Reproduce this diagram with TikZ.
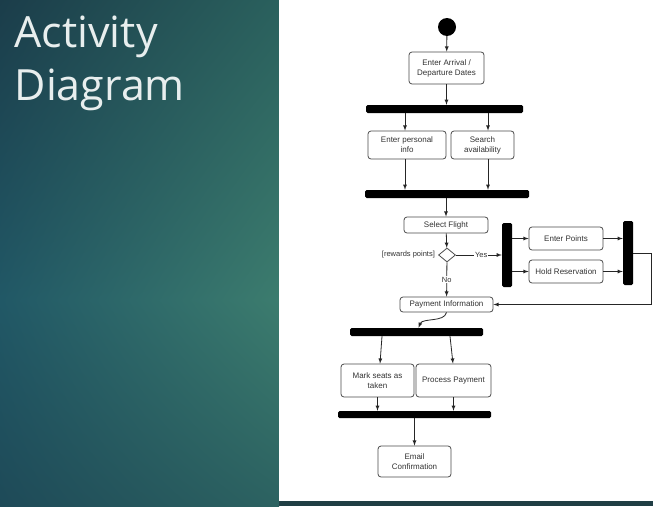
\documentclass[tikz,border=0pt]{standalone}
\usepackage{fontspec}
\setmainfont{Liberation Sans}
\newfontfamily\titlefont{Open Sans}
\usepackage{tikz}
\usetikzlibrary{calc,arrows,shapes.geometric,shadings}
\definecolor{bgTL}{RGB}{27,61,74}
\definecolor{bgTR}{RGB}{42,96,93}
\definecolor{bgML}{RGB}{33,88,102}
\definecolor{bgMR}{RGB}{60,124,110}
\definecolor{bgBL}{RGB}{30,74,88}
\definecolor{bgBR}{RGB}{44,98,97}
\definecolor{bgstrip}{RGB}{32,62,68}
\definecolor{titlecol}{RGB}{232,238,238}

\begin{document}
\begin{tikzpicture}[x=1pt,y=1pt,>=latex,
    act/.style={draw=black!70,fill=white,rounded corners=3pt,align=center,inner sep=1pt,
      font=\fontsize{8}{10}\selectfont,text=black!80,line width=0.8pt},
    bar/.style={fill=black,rounded corners=1.5pt,inner sep=0pt},
    lbl/.style={fill=white,inner sep=1pt,font=\fontsize{7.5}{9}\selectfont,text=black!80},
    flow/.style={->,draw=black!85,line width=0.8pt}]
              \useasboundingbox(0,0)rectangle(653,-506);
              \fill[bgstrip](0,0)rectangle(653,-506);
              \shade[upper left=bgTL,upper right=bgTR,lower left=bgML,lower right=bgMR](0,0)rectangle(279,-300);
              \shade[upper left=bgML,upper right=bgMR,lower left=bgBL,lower right=bgBR](0,-300)rectangle(279,-506);
              \fill[white](279,0)rectangle(653,-501);
              \node[anchor=base west,inner sep=0pt,text=titlecol,font=\titlefont\fontsize{43}{53}\selectfont](t1)at(14.5,-47){Activity};
              \node[anchor=base west,inner sep=0pt,text=titlecol,font=\titlefont\fontsize{43}{53}\selectfont](t2)at(14.5,-100){Diagram};
              \node[circle,fill,inner sep=0pt,minimum size=18pt](start)at(447,-27){};
              \node[act,minimum width=75pt,minimum height=32pt](arr)at(446.5,-68){Enter Arrival /\\Departure Dates};
              \node[bar,minimum width=157pt,minimum height=8pt](f1)at(444.5,-109){};
              \node[act,minimum width=78pt,minimum height=28pt](pers)at(407,-145){Enter personal\\info};
              \node[act,minimum width=63pt,minimum height=28pt](srch)at(482.5,-145){Search\\availability};
              \node[bar,minimum width=164pt,minimum height=8pt](f2)at(447,-194){};
              \node[act,minimum width=84pt,minimum height=16pt](sel)at(446,-225){Select Flight};
              \node[diamond,draw=black!70,fill=white,line width=0.8pt,inner sep=0pt,minimum width=17pt,minimum height=14pt](dia)at(447,-255){};
              \node[lbl,anchor=east](rw)at([xshift=-2pt]dia.west){[rewards points]};
              \node[bar,minimum width=10pt,minimum height=64pt](fk)at(507,-255){};
              \node[act,minimum width=74pt,minimum height=23pt](pts)at(566,-238.5){Enter Points};
              \node[act,minimum width=74pt,minimum height=23pt](hold)at(566,-271.5){Hold Reservation};
              \node[bar,minimum width=10pt,minimum height=64pt](jn)at(628,-253){};
              \node[act,minimum width=93pt,minimum height=15pt](pay)at(446.5,-304.5){Payment Information};
              \node[bar,minimum width=133pt,minimum height=8pt](f3)at(416.5,-332){};
              \node[act,minimum width=73pt,minimum height=33pt](mark)at(377.5,-380.5){Mark seats as\\taken};
              \node[act,minimum width=75pt,minimum height=33pt](proc)at(453.5,-380.5){Process Payment};
              \node[bar,minimum width=153pt,minimum height=7pt](f4)at(414.5,-414.5){};
              \node[act,minimum width=73pt,minimum height=31pt](mail)at(414.5,-461.5){Email\\Confirmation};
              \draw[flow](start)--(arr);
              \draw[flow](arr.south)--(arr.south|-f1.north);
              \draw[flow]([xshift=-2pt]pers.north|-f1.south)--([xshift=-2pt]pers.north);
              \draw[flow]([xshift=5.5pt]srch.north|-f1.south)--([xshift=5.5pt]srch.north);
              \draw[flow]([xshift=-2pt]pers.south)--([xshift=-2pt]pers.south|-f2.north);
              \draw[flow]([xshift=5.5pt]srch.south)--([xshift=5.5pt]srch.south|-f2.north);
              \draw[flow](f2.south-|sel.north)--(sel.north);
              \draw[flow](sel)--(dia);
              \draw[flow](dia)--node[lbl,pos=0.55]{Yes}(fk.west|-dia);
              \draw[flow](dia)--node[lbl]{No}(pay);
              \draw[flow](fk.east|-pts)--(pts);
              \draw[flow](fk.east|-hold)--(hold);
              \draw[flow](pts)--(jn.west|-pts);
              \draw[flow](hold)--(jn.west|-hold);
              \draw[flow](jn.east)--++(18,0)|-(pay.east);
              \draw[flow](pay.south).. controls +(-2,-10) and +(4,10) ..([xshift=2pt]f3.north);
              \draw[flow]([xshift=-34.5pt]f3.south)--([xshift=2.5pt]mark.north);
              \draw[flow]([xshift=33.5pt]f3.south)--([xshift=-0.5pt]proc.north);
              \draw[flow](mark.south)--(mark.south|-f4.north);
              \draw[flow](proc.south)--(proc.south|-f4.north);
              \draw[flow](f4)--(mail);
            \end{tikzpicture}
\end{document}
